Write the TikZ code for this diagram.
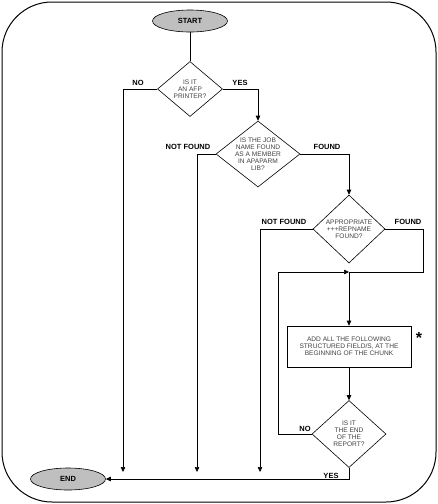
\documentclass[tikz,border=0pt]{standalone}
\usepackage{fontspec}
\setmainfont{Liberation Sans}
\usetikzlibrary{shapes.geometric,arrows.meta}

\begin{document}
\begin{tikzpicture}[x=1pt, y=-1pt, line width=0.6pt,
    >={Triangle[length=5pt,width=4.5pt]},
    every node/.style={font=\fontsize{6.6}{7}\selectfont},
    decision/.style={draw,diamond,inner sep=-20pt,align=center,text=black!75},
    term/.style={draw,ellipse,fill=black!25,minimum width=75pt,minimum height=22pt,font=\fontsize{7.5}{9}\selectfont\bfseries},
    proc/.style={draw,rectangle,minimum width=124pt,minimum height=41pt,align=center,text=black!75},
    lbl/.style={font=\fontsize{7.5}{9}\selectfont\bfseries}]
    \useasboundingbox (0,0) rectangle (438,504);
    % Frame
    \draw[line width=1pt,rounded corners=50pt] (2,2) rectangle (436,502);

    % Terminals
    \node[term] (start) at (190,21) {START};
    \node[term] (end) at (68,479) {END};

    % Decisions
    \node[decision,minimum width=65pt,minimum height=55pt] (afp) at (190,89) {IS IT\\AN AFP\\PRINTER?};
    \node[decision,minimum width=84pt,minimum height=66pt] (job) at (258,154) {IS THE JOB\\NAME FOUND\\AS A MEMBER\\IN APAPARM\\LIB?};
    \node[decision,minimum width=72pt,minimum height=68pt] (rep) at (349,229) {APPROPRIATE\\+++REPNAME\\FOUND?};
    \node[proc] (add) at (349,346.5) {ADD ALL THE FOLLOWING\\STRUCTURED FIELD/S, AT THE\\BEGINNING OF THE CHUNK};
    \node[font=\fontsize{16}{16}\selectfont\bfseries] (star) at (419,338) {*};
    \node[decision,minimum width=74pt,minimum height=67pt] (eor) at (349,434) {IS IT\\THE END\\OF THE\\REPORT?};

    % Free ends and bends
    \coordinate (noafp) at (123,472);
    \coordinate (nojob) at (197,472);
    \coordinate (norep) at (260,472);
    \coordinate (merge) at (349,272);
    \coordinate (foundr) at (423,272);
    \coordinate (loop) at (278,272);

    % Labels
    \node[lbl] at (138,83) {NO};
    \node[lbl] at (240,83) {YES};
    \node[lbl] at (188,147) {NOT FOUND};
    \node[lbl] at (327,147) {FOUND};
    \node[lbl] at (284,222) {NOT FOUND};
    \node[lbl] at (408,222) {FOUND};
    \node[lbl] at (305,429) {NO};
    \node[lbl] at (331,476) {YES};

    % Connections
    \draw (start) -- (afp);
    \draw[->] (afp.west) -| (noafp);
    \draw[->] (afp.east) -| (job.north);
    \draw[->] (job.west) -| (nojob);
    \draw[->] (job.east) -| (rep.north);
    \draw[->] (rep.west) -| (norep);
    \draw (rep.east) -| (foundr) -- (merge);
    \draw[->] (eor.west) -| (loop) -- (merge);
    \draw[->] (merge) -- (add);
    \draw[->] (add) -- (eor);
    \draw[->] (eor.south) |- (end);
\end{tikzpicture}
\end{document}
